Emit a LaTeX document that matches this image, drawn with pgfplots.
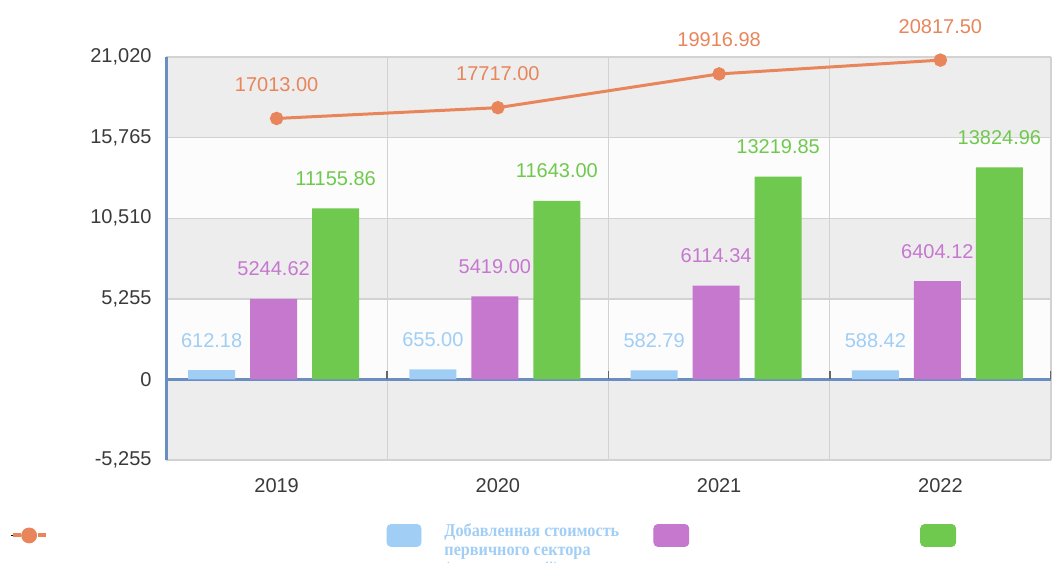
\documentclass[border=0pt]{standalone}
\usepackage{fontspec}
\setmainfont{Liberation Sans}
\newfontfamily\legfont{Liberation Serif}[FakeStretch=0.9]
\usepackage{pgfplots}
\pgfplotsset{compat=1.18}

\definecolor{lineor}{HTML}{E8855A}
\definecolor{barblue}{HTML}{A0CEF5}
\definecolor{barpur}{HTML}{C678CF}
\definecolor{bargrn}{HTML}{70C94F}
\definecolor{axblue}{HTML}{6A8DC2}
\definecolor{gridg}{HTML}{D2D2D2}
\definecolor{bandg}{HTML}{EDEDED}
\definecolor{bandw}{HTML}{FCFCFC}
\definecolor{ticktxt}{HTML}{3A3A3A}

\begin{document}
\begin{tikzpicture}
\begin{axis}[
  at={(83pt,-230pt)}, anchor=south west,
  scale only axis,
  width=442.5pt, height=201.5pt,
  set layers,
  xmin=-0.5, xmax=3.5,
  ymin=-5255, ymax=21020,
  scaled y ticks=false,
  xtick={0,1,2,3},
  xticklabels={2019,2020,2021,2022},
  minor xtick={0.5,1.5,2.5,3.5},
  ytick={-5255,5255,10510,15765,21020},
  yticklabels={{-5,255},{5,255},{10,510},{15,765},{21,020}},
  extra y ticks={0},
  extra y tick labels={0},
  extra y tick style={grid style={axblue, line width=1.5pt}},
  ymajorgrids, xminorgrids,
  grid style={gridg, line width=0.7pt},
  minor grid style={gridg, line width=0.7pt},
  major tick length=0pt, minor tick length=0pt,
  axis y line*=left, axis x line*=bottom,
  y axis line style={axblue, line width=1.5pt},
  x axis line style={draw=none},
  tick label style={font=\fontsize{10}{12}\selectfont, text=ticktxt},
  yticklabel style={xshift=-3.7pt},
  xticklabel style={yshift=-5.5pt},
  legend columns=4,
  legend style={at={(axis description cs:-0.1760,-0.1587)}, anchor=north west,
    draw=none, fill=none, inner sep=0pt, outer sep=0pt,
    nodes={inner sep=0pt, outer sep=0pt},
    /tikz/every even column/.style={column sep=0pt},
    /tikz/every odd column/.style={column sep=0pt}},
]

% background bands
\begin{pgfonlayer}{axis background}
  \fill[bandg] (axis cs:-0.5,15765) rectangle (axis cs:3.5,21020);
  \fill[bandw] (axis cs:-0.5,10510) rectangle (axis cs:3.5,15765);
  \fill[bandg] (axis cs:-0.5,5255) rectangle (axis cs:3.5,10510);
  \fill[bandw] (axis cs:-0.5,0) rectangle (axis cs:3.5,5255);
  \fill[bandg] (axis cs:-0.5,-5255) rectangle (axis cs:3.5,0);
\end{pgfonlayer}

% short ticks on the zero line at category boundaries
\draw[gray!80!black, line width=0.8pt]
  (axis cs:0.5,0) -- ([yshift=4pt]axis cs:0.5,0)
  (axis cs:1.5,0) -- ([yshift=4pt]axis cs:1.5,0)
  (axis cs:2.5,0) -- ([yshift=4pt]axis cs:2.5,0)
  (axis cs:3.5,0) -- ([yshift=4pt]axis cs:3.5,0);

% legend entries (in the order of the original)
\addlegendimage{legend image code/.code={
  \path (0pt,0pt) -- (1pt,0pt);
  \draw[lineor, line width=2pt] (1pt,0pt) -- (5pt,0pt);
  \fill[lineor] (9.25pt,0pt) circle (3.75pt);
  \draw[lineor, line width=2pt] (13.5pt,0pt) -- (17.5pt,0pt);}}
\addlegendentry{\makebox[169.5pt][l]{}}
\addlegendimage{legend image code/.code={
  \fill[barblue, rounded corners=2pt] (0pt,-5.5pt) rectangle (17pt,5.5pt);}}
\addlegendentry{\hspace*{11.5pt}\raisebox{10pt}{\parbox[t]{104.5pt}{\legfont\bfseries\fontsize{9}{9.5}\selectfont\color{barblue}Добавленная стоимость\\первичного сектора\\(номинальный)}}}
\addlegendimage{legend image code/.code={
  \fill[barpur, rounded corners=2pt] (0pt,-5.5pt) rectangle (17.5pt,5.5pt);}}
\addlegendentry{\makebox[115.5pt][l]{}}
\addlegendimage{legend image code/.code={
  \fill[bargrn, rounded corners=2pt] (0pt,-5.5pt) rectangle (17.5pt,5.5pt);}}
\addlegendentry{}

% bars
\addplot[ybar, bar width=23.5pt, bar shift=-32.5pt, fill=barblue, draw=none,
  nodes near coords, point meta=explicit symbolic,
  every node near coord/.append style={anchor=base, xshift=-32.5pt, yshift=11.5pt, text=barblue, font=\fontsize{10}{12}\selectfont},
  forget plot]
  coordinates {(0,612.18) [612.18] (1,655.00) [655.00] (2,582.79) [582.79] (3,588.42) [588.42]};
\addplot[ybar, bar width=23.5pt, bar shift=-1.5pt, fill=barpur, draw=none,
  nodes near coords, point meta=explicit symbolic,
  every node near coord/.append style={anchor=base, xshift=-1.5pt, yshift=11.5pt, text=barpur, font=\fontsize{10}{12}\selectfont},
  forget plot]
  coordinates {(0,5244.62) [5244.62] (1,5419.00) [5419.00] (2,6114.34) [6114.34] (3,6404.12) [6404.12]};
\addplot[ybar, bar width=23.5pt, bar shift=29.5pt, fill=bargrn, draw=none,
  nodes near coords, point meta=explicit symbolic,
  every node near coord/.append style={anchor=base, xshift=29.5pt, yshift=11.5pt, text=bargrn, font=\fontsize{10}{12}\selectfont},
  forget plot]
  coordinates {(0,11155.86) [11155.86] (1,11643.00) [11643.00] (2,13219.85) [13219.85] (3,13824.96) [13824.96]};

% total line
\addplot[lineor, line width=1.5pt, mark=*, mark size=2.6pt,
  mark options={fill=lineor, draw=lineor},
  nodes near coords, point meta=explicit symbolic,
  every node near coord/.append style={anchor=base, yshift=13.5pt, text=lineor, font=\fontsize{10}{12}\selectfont},
  forget plot]
  coordinates {(0,17013.00) [17013.00] (1,17717.00) [17717.00] (2,19916.98) [19916.98] (3,20817.50) [20817.50]};

\end{axis}
\pgfresetboundingbox
\useasboundingbox (0,0) rectangle (526.5pt,-281pt);
\end{tikzpicture}
\end{document}
